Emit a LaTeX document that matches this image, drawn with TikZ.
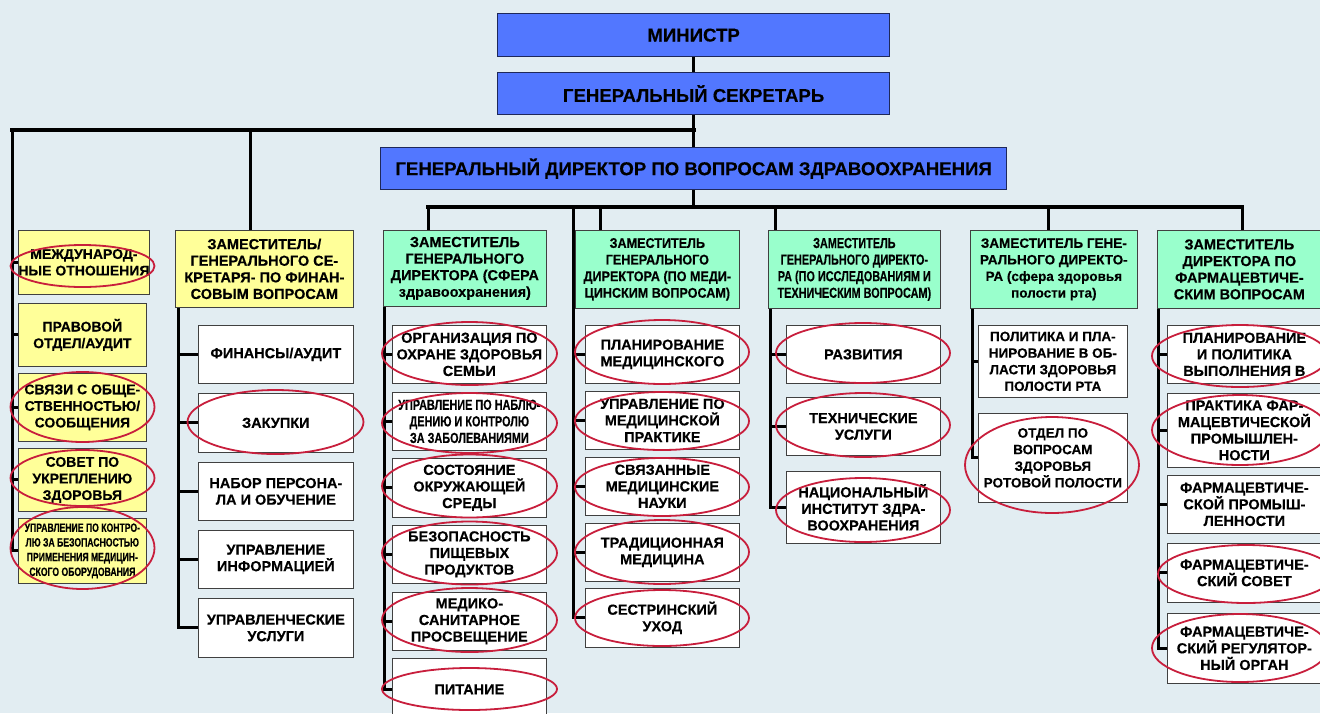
\documentclass[tikz,border=0pt]{standalone}
\usepackage{fontspec}
\setmainfont{Liberation Sans}[BoldFeatures={FakeBold=0.3}]
\newfontfamily\condfont{Liberation Sans}[FakeStretch=0.75, BoldFeatures={FakeBold=0.3}]
\newfontfamily\condsfont{Liberation Sans}[FakeStretch=0.72, BoldFeatures={FakeBold=0.3}]
\newfontfamily\semifont{Liberation Sans}[FakeStretch=0.9, BoldFeatures={FakeBold=0.3}]
\usetikzlibrary{backgrounds}
\definecolor{bgc}{RGB}{226,237,242}
\definecolor{topblue}{RGB}{82,119,255}
\definecolor{topedge}{RGB}{30,40,90}
\definecolor{yel}{RGB}{255,255,153}
\definecolor{grn}{RGB}{153,255,204}
\definecolor{ellred}{RGB}{200,30,60}
\newcommand{\boxfnt}{\fontsize{14.5}{16.6}\selectfont\bfseries}
\newcommand{\boxfntb}{\fontsize{14}{16.6}\selectfont\bfseries}
\newcommand{\boxfntc}{\fontsize{13.5}{16.6}\selectfont\bfseries}
\newcommand{\topfnt}{\fontsize{18.6}{21}\selectfont\bfseries}
\newcommand{\cnd}{\condfont\fontsize{14.5}{16.6}\selectfont\bfseries}
\newcommand{\cndsmall}{\condsfont\fontsize{12}{14.7}\selectfont\bfseries}
\newcommand{\semi}{\semifont\fontsize{14}{16.6}\selectfont\bfseries}
\begin{document}
\begin{tikzpicture}[x=1pt,y=-1pt,
  box/.style={draw=black!75, line width=0.7pt, fill=white, inner sep=0pt, align=center, anchor=north west, font=\boxfnt},
  ybox/.style={box, fill=yel, font=\boxfntb},
  gbox/.style={box, fill=grn},
  topbox/.style={draw=topedge, line width=1.2pt, fill=topblue, inner sep=0pt, align=center, anchor=north west, font=\topfnt},
  conn/.style={line width=3pt, line cap=rect},
  mainline/.style={line width=4pt, line cap=rect},
  ell/.style={draw=ellred, line width=1.8pt}]
\useasboundingbox (0,0) rectangle (1320,713);
\clip (0,0) rectangle (1320,713);

% top
\node[topbox, minimum width=392pt, minimum height=43pt] (min) at (497,13) {МИНИСТР};
\node[topbox, minimum width=392pt, minimum height=42pt] (gs) at (497,72) {ГЕНЕРАЛЬНЫЙ СЕКРЕТАРЬ};
\node[topbox, minimum width=626pt, minimum height=42pt] (gd) at (380,147) {ГЕНЕРАЛЬНЫЙ ДИРЕКТОР ПО ВОПРОСАМ ЗДРАВООХРАНЕНИЯ};

% column 1
\node[ybox, minimum width=128pt, minimum height=64pt] (c1a) at (18,230) {МЕЖДУНАРОД-\\НЫЕ ОТНОШЕНИЯ};
\node[ybox, minimum width=128pt, minimum height=63pt] (c1b) at (18,303) {ПРАВОВОЙ\\ОТДЕЛ/АУДИТ};
\node[ybox, minimum width=128pt, minimum height=68pt] (c1c) at (18,373) {СВЯЗИ С ОБЩЕ-\\СТВЕННОСТЬЮ/\\СООБЩЕНИЯ};
\node[ybox, minimum width=128pt, minimum height=63pt] (c1d) at (18,448) {СОВЕТ ПО\\УКРЕПЛЕНИЮ\\ЗДОРОВЬЯ};
\node[ybox, minimum width=128pt, minimum height=65pt, font=\cndsmall] (c1e) at (18,518) {УПРАВЛЕНИЕ ПО КОНТРО-\\ЛЮ ЗА БЕЗОПАСНОСТЬЮ\\ПРИМЕНЕНИЯ МЕДИЦИН-\\СКОГО ОБОРУДОВАНИЯ};

% column 2
\node[ybox, font=\boxfnt, minimum width=178pt, minimum height=77pt] (h2) at (175,230) {ЗАМЕСТИТЕЛЬ/\\ГЕНЕРАЛЬНОГО СЕ-\\КРЕТАРЯ- ПО ФИНАН-\\СОВЫМ ВОПРОСАМ};
\node[box, minimum width=155pt, minimum height=58pt] (c2a) at (198,325) {ФИНАНСЫ/АУДИТ};
\node[box, minimum width=155pt, minimum height=59pt] (c2b) at (198,393) {ЗАКУПКИ};
\node[box, minimum width=155pt, minimum height=58pt] (c2c) at (198,462) {НАБОР ПЕРСОНА-\\ЛА И ОБУЧЕНИЕ};
\node[box, minimum width=155pt, minimum height=58pt] (c2d) at (198,530) {УПРАВЛЕНИЕ\\ИНФОРМАЦИЕЙ};
\node[box, minimum width=155pt, minimum height=59pt] (c2e) at (198,598) {УПРАВЛЕНЧЕСКИЕ\\УСЛУГИ};

% column 3
\node[gbox, minimum width=163pt, minimum height=76pt] (h3) at (383,230) {ЗАМЕСТИТЕЛЬ\\ГЕНЕРАЛЬНОГО\\ДИРЕКТОРА (СФЕРА\\здравоохранения)};
\node[box, minimum width=154pt, minimum height=58pt] (c3a) at (392,325) {ОРГАНИЗАЦИЯ ПО\\ОХРАНЕ ЗДОРОВЬЯ\\СЕМЬИ};
\node[box, minimum width=154pt, minimum height=58pt, font=\cnd] (c3b) at (392,392) {УПРАВЛЕНИЕ ПО НАБЛЮ-\\ДЕНИЮ И КОНТРОЛЮ\\ЗА ЗАБОЛЕВАНИЯМИ};
\node[box, minimum width=154pt, minimum height=59pt] (c3c) at (392,458) {СОСТОЯНИЕ\\ОКРУЖАЮЩЕЙ\\СРЕДЫ};
\node[box, minimum width=154pt, minimum height=58pt] (c3d) at (392,525) {БЕЗОПАСНОСТЬ\\ПИЩЕВЫХ\\ПРОДУКТОВ};
\node[box, minimum width=154pt, minimum height=58pt] (c3e) at (392,592) {МЕДИКО-\\САНИТАРНОЕ\\ПРОСВЕЩЕНИЕ};
\node[box, minimum width=154pt, minimum height=62pt] (c3f) at (392,658) {ПИТАНИЕ};

% column 4
\node[gbox, minimum width=164pt, minimum height=78pt, font=\semi] (h4) at (575,230) {ЗАМЕСТИТЕЛЬ\\ГЕНЕРАЛЬНОГО\\ДИРЕКТОРА (ПО МЕДИ-\\ЦИНСКИМ ВОПРОСАМ)};
\node[box, minimum width=154pt, minimum height=58pt] (c4a) at (585,325) {ПЛАНИРОВАНИЕ\\МЕДИЦИНСКОГО};
\node[box, minimum width=154pt, minimum height=58pt] (c4b) at (585,391) {УПРАВЛЕНИЕ ПО\\МЕДИЦИНСКОЙ\\ПРАКТИКЕ};
\node[box, minimum width=154pt, minimum height=58pt] (c4c) at (585,457) {СВЯЗАННЫЕ\\МЕДИЦИНСКИЕ\\НАУКИ};
\node[box, minimum width=154pt, minimum height=58pt] (c4d) at (585,523) {ТРАДИЦИОННАЯ\\МЕДИЦИНА};
\node[box, minimum width=154pt, minimum height=59pt] (c4e) at (585,588) {СЕСТРИНСКИЙ\\УХОД};

% column 5
\node[gbox, minimum width=172pt, minimum height=78pt, font=\cnd] (h5) at (768,230) {ЗАМЕСТИТЕЛЬ\\ГЕНЕРАЛЬНОГО ДИРЕКТО-\\РА (ПО ИССЛЕДОВАНИЯМ И\\ТЕХНИЧЕСКИМ ВОПРОСАМ)};
\node[box, minimum width=154pt, minimum height=58pt] (c5a) at (786,325) {РАЗВИТИЯ};
\node[box, minimum width=154pt, minimum height=58pt] (c5b) at (786,397) {ТЕХНИЧЕСКИЕ\\УСЛУГИ};
\node[box, minimum width=154pt, minimum height=72pt] (c5c) at (786,471) {НАЦИОНАЛЬНЫЙ\\ИНСТИТУТ ЗДРА-\\ВООХРАНЕНИЯ};

% column 6
\node[gbox, minimum width=167pt, minimum height=78pt, font=\boxfntc] (h6) at (970,230) {ЗАМЕСТИТЕЛЬ ГЕНЕ-\\РАЛЬНОГО ДИРЕКТО-\\РА (сфера здоровья\\полости рта)};
\node[box, minimum width=149pt, minimum height=72pt, font=\boxfntc] (c6a) at (978,325) {ПОЛИТИКА И ПЛА-\\НИРОВАНИЕ В ОБ-\\ЛАСТИ ЗДОРОВЬЯ\\ПОЛОСТИ РТА};
\node[box, minimum width=149pt, minimum height=89pt, font=\boxfntc] (c6b) at (978,413) {ОТДЕЛ ПО\\ВОПРОСАМ\\ЗДОРОВЬЯ\\РОТОВОЙ ПОЛОСТИ};

% column 7
\node[gbox, minimum width=164pt, minimum height=78pt] (h7) at (1157,230) {ЗАМЕСТИТЕЛЬ\\ДИРЕКТОРА ПО\\ФАРМАЦЕВТИЧЕ-\\СКИМ ВОПРОСАМ};
\node[box, minimum width=154pt, minimum height=58pt] (c7a) at (1167,325) {ПЛАНИРОВАНИЕ\\И ПОЛИТИКА\\ВЫПОЛНЕНИЯ В};
\node[box, minimum width=154pt, minimum height=74pt] (c7b) at (1167,393) {ПРАКТИКА ФАР-\\МАЦЕВТИЧЕСКОЙ\\ПРОМЫШЛЕН-\\НОСТИ};
\node[box, minimum width=154pt, minimum height=58pt] (c7c) at (1167,475) {ФАРМАЦЕВТИЧЕ-\\СКОЙ ПРОМЫШ-\\ЛЕННОСТИ};
\node[box, minimum width=154pt, minimum height=59pt] (c7d) at (1167,543) {ФАРМАЦЕВТИЧЕ-\\СКИЙ СОВЕТ};
\node[box, minimum width=154pt, minimum height=70pt] (c7e) at (1167,613) {ФАРМАЦЕВТИЧЕ-\\СКИЙ РЕГУЛЯТОР-\\НЫЙ ОРГАН};

% junction coordinates
\coordinate (j1) at (12,130);
\coordinate (j2) at (250,130);
\coordinate (k) at (gs.south |- j1);
\coordinate (g) at (gd.south |- 0,207);
\coordinate (g3) at (h3.north -| 428,0);
\coordinate (g4) at (573,207);
\coordinate (t2) at (178,0);
\coordinate (t3) at (384,0);
\coordinate (t5) at (770,0);
\coordinate (t6) at (972,0);
\coordinate (t7) at (1158,0);

\begin{pgfonlayer}{background}
\fill[bgc] (0,0) rectangle (1320,713);
\draw[conn] (min.south) -- (gs.north);
\draw[conn] (gs.south) -- (gd.north);
\draw[conn] (gd.south) -- (g);
\draw[mainline] (j1) -- (k);
\draw[mainline] (428,207) -- (1242,207);
% column 1
\draw[conn] (j1) |- (c1e.west);
\foreach \b in {c1a,c1b,c1c,c1d} \draw[conn] (j1 |- \b.west) -- (\b.west);
% column 2
\draw[conn] (j2) -- (j2 |- h2.north);
\draw[conn] (t2 |- h2.south) -- (t2 |- c2e.west) -- (c2e.west);
\foreach \b in {c2a,c2b,c2c,c2d} \draw[conn] (t2 |- \b.west) -- (\b.west);
% column 3
\draw[conn] (428,207) -- (g3);
\draw[conn] (t3 |- h3.south) -- (t3 |- c3f.west) -- (c3f.west);
\foreach \b in {c3a,c3b,c3c,c3d,c3e} \draw[conn] (t3 |- \b.west) -- (\b.west);
% column 4
\draw[conn] (600,207) -- (h4.north -| 600,0);
\draw[conn] (g4) -- (g4 |- c4e.west) -- (c4e.west);
\foreach \b in {c4a,c4b,c4c,c4d} \draw[conn] (g4 |- \b.west) -- (\b.west);
% column 5
\draw[conn] (775,207) -- (h5.north -| 775,0);
\draw[conn] (t5 |- h5.south) -- (t5 |- c5c.west) -- (c5c.west);
\foreach \b in {c5a,c5b} \draw[conn] (t5 |- \b.west) -- (\b.west);
% column 6
\draw[conn] (1048,207) -- (h6.north -| 1048,0);
\draw[conn] (t6 |- h6.south) -- (t6 |- c6b.west) -- (c6b.west);
\draw[conn] (t6 |- c6a.west) -- (c6a.west);
% column 7
\draw[conn] (1242,207) -- (h7.north -| 1242,0);
\draw[conn] (t7 |- h7.south) -- (t7 |- c7e.west) -- (c7e.west);
\foreach \b in {c7a,c7b,c7c,c7d} \draw[conn] (t7 |- \b.west) -- (\b.west);
\end{pgfonlayer}

% red ellipses
\draw[ell] (82.5,266) ellipse [x radius=72pt, y radius=21pt];
\draw[ell] (82.5,407) ellipse [x radius=72pt, y radius=35pt];
\draw[ell] (82.5,478) ellipse [x radius=72pt, y radius=28pt];
\draw[ell] (82.5,548) ellipse [x radius=72pt, y radius=41pt];
\draw[ell] (275.5,422) ellipse [x radius=88pt, y radius=32pt];
\draw[ell] (469.5,353.5) ellipse [x radius=87.5pt, y radius=31.5pt];
\draw[ell] (469.5,423) ellipse [x radius=87.5pt, y radius=30pt];
\draw[ell] (469.5,486) ellipse [x radius=87.5pt, y radius=31.5pt];
\draw[ell] (469.5,553) ellipse [x radius=87.5pt, y radius=31.5pt];
\draw[ell] (469.5,620) ellipse [x radius=87.5pt, y radius=32pt];
\draw[ell] (469.5,689) ellipse [x radius=87.5pt, y radius=21pt];
\draw[ell] (662,352) ellipse [x radius=87pt, y radius=32pt];
\draw[ell] (662,421) ellipse [x radius=87pt, y radius=29pt];
\draw[ell] (662,487) ellipse [x radius=87pt, y radius=29pt];
\draw[ell] (662,552) ellipse [x radius=87pt, y radius=32pt];
\draw[ell] (662,618) ellipse [x radius=87pt, y radius=28pt];
\draw[ell] (863,353) ellipse [x radius=87pt, y radius=30pt];
\draw[ell] (863,425) ellipse [x radius=87pt, y radius=32pt];
\draw[ell] (863,510) ellipse [x radius=87pt, y radius=32pt];
\draw[ell] (1052,465) ellipse [x radius=87pt, y radius=48pt];
\draw[ell] (1240,356) ellipse [x radius=88pt, y radius=31pt];
\draw[ell] (1240,430) ellipse [x radius=88pt, y radius=35pt];
\draw[ell] (1246,574) ellipse [x radius=88pt, y radius=29pt];
\draw[ell] (1240,648) ellipse [x radius=88pt, y radius=34pt];
\end{tikzpicture}
\end{document}
